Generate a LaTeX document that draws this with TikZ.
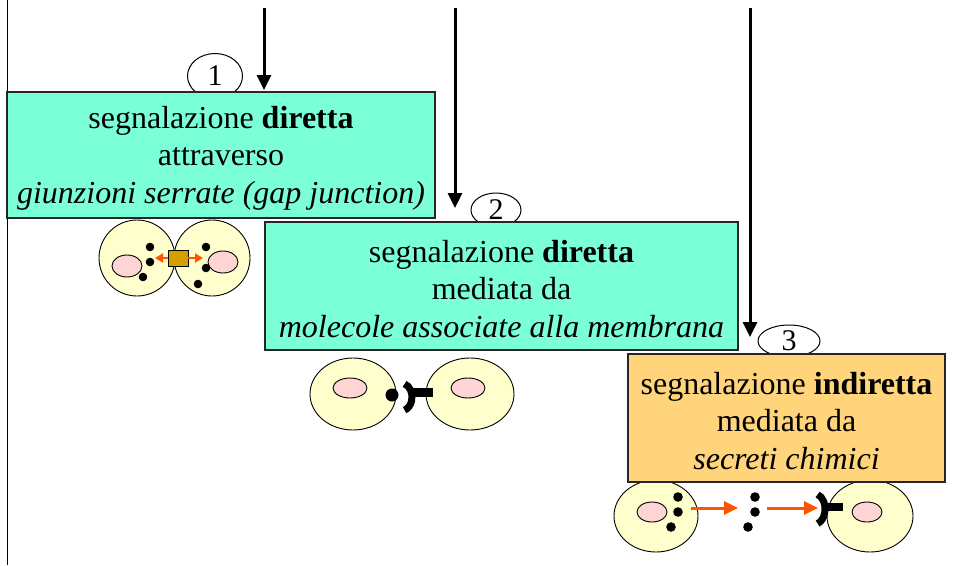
\documentclass[tikz,border=0pt]{standalone}
\usepackage{fontspec}
\setmainfont{Liberation Serif}
\usetikzlibrary{arrows.meta,shapes.geometric}
\definecolor{aquabox}{RGB}{122,255,214}
\definecolor{orangebox}{RGB}{255,212,122}
\definecolor{cellfill}{RGB}{255,255,206}
\definecolor{nucfill}{RGB}{255,212,212}
\definecolor{gapfill}{RGB}{212,160,0}
\definecolor{signal}{RGB}{255,85,0}
\begin{document}
\begin{tikzpicture}[x=1pt,y=-1pt,
  infobox/.style={draw=black!85,line width=1.3pt,inner sep=0pt},
  infotext/.style={inner sep=0pt,align=center,font=\fontsize{32}{37.5}\selectfont},
  stepnum/.style={draw=black,line width=1pt,fill=white,ellipse,inner sep=0pt,
    font=\fontsize{30}{32}\selectfont},
  feed/.style={line width=3pt,-{Triangle[width=14pt,length=15pt]}},
  cell/.style={draw=black,line width=0.9pt,fill=cellfill},
  nucleus/.style={draw=black,line width=0.9pt,fill=nucfill},
  signalarrow/.style={signal,line width=3pt,-{Triangle[width=13pt,length=14pt]}},
  gaparrow/.style={signal,line width=2.2pt,-{Triangle[width=9pt,length=8pt]}},
  receptor/.style={line width=7pt,black},
]
\useasboundingbox (0,0) rectangle (953,565);

% left margin rule
\coordinate (ruletop) at (7,0);
\coordinate (rulebottom) at (7,565);
\draw[line width=1pt] (ruletop) -- (rulebottom);

% step number ellipses (drawn first, the boxes cover their lower edge)
\node[stepnum,minimum width=55pt,minimum height=45pt] (n1) at (215,76) {1};
\node[stepnum,minimum width=50pt,minimum height=34pt] (n2) at (496,210) {2};
\node[stepnum,minimum width=62pt,minimum height=32pt] (n3) at (789,341) {3};

% cells of route 3 (partly under box 3)
\draw[cell] (656,516) ellipse [x radius=42,y radius=36];
\draw[nucleus] (652,512) ellipse [x radius=15,y radius=10];
\draw[cell] (870,516) ellipse [x radius=43,y radius=36];
\draw[nucleus] (867,512) ellipse [x radius=15,y radius=10];

% boxes and their captions
\node[infobox,fill=aquabox,minimum width=428pt,minimum height=126pt] (b1) at (221,155) {};
\node[infotext] (t1) at (221,158)
  {segnalazione \textbf{diretta}\\attraverso\\\textit{giunzioni serrate (gap junction)}};
\node[infobox,fill=aquabox,minimum width=473pt,minimum height=128pt] (b2) at (501.5,286) {};
\node[infotext] (t2) at (501.5,289)
  {segnalazione \textbf{diretta}\\mediata da\\\textit{molecole associate alla membrana}};
\node[infobox,fill=orangebox,minimum width=317pt,minimum height=128pt] (b3) at (786.5,418) {};
\node[infotext] (t3) at (786.5,421)
  {segnalazione \textbf{indiretta}\\mediata da\\\textit{secreti chimici}};

% incoming arrows
\coordinate (s1) at (264,8);  \coordinate (e1) at (264,90);
\coordinate (s2) at (455,8);  \coordinate (e2) at (455,208);
\coordinate (s3) at (750,8);  \coordinate (e3) at (750,337);
\draw[feed] (s1) -- (e1);
\draw[feed] (s2) -- (e2);
\draw[feed] (s3) -- (e3);

% route 1: gap junction between two touching cells
\draw[cell] (137,258) circle [radius=38];
\draw[cell] (212,258) circle [radius=38];
\draw[nucleus] (127,266) ellipse [x radius=15,y radius=11];
\draw[nucleus] (223,262) ellipse [x radius=15,y radius=11];
\foreach \p in {(150,247),(150,262),(143,277),(206,247),(206,268),(198,284)}
  \fill \p circle [radius=4.3];
\node[draw=black,line width=0.9pt,fill=gapfill,minimum width=20pt,minimum height=16pt,inner sep=0pt] (gap) at (178,258) {};
\coordinate (gl) at (155,258);
\coordinate (gr) at (203,258);
\draw[gaparrow] (gap.west) -- (gl);
\draw[gaparrow] (gap.east) -- (gr);

% route 2: membrane-bound ligand and receptor
\draw[cell] (353,394) ellipse [x radius=43,y radius=36];
\draw[nucleus] (350,388) ellipse [x radius=17,y radius=10];
\draw[cell] (470,394) ellipse [x radius=44,y radius=36];
\draw[nucleus] (468,388) ellipse [x radius=17,y radius=10];
\fill (392,395) circle [radius=6.5];
\draw[receptor] ([shift={(-75:10 and 13.5)}]402,397) arc [start angle=-75,end angle=75,x radius=10,y radius=13.5];
\fill (413,388) rectangle (433,397);

% route 3: secreted chemical signal
\foreach \p in {(678,497),(678,512),(671,527),(755,497),(755,512),(748,527)}
  \fill \p circle [radius=4.8];
\coordinate (a1s) at (691,508); \coordinate (a1e) at (738,508);
\coordinate (a2s) at (767,508); \coordinate (a2e) at (818,508);
\draw[signalarrow] (a1s) -- (a1e);
\draw[signalarrow] (a2s) -- (a2e);
\draw[receptor] ([shift={(-75:10 and 15)}]815,509) arc [start angle=-75,end angle=75,x radius=10,y radius=15];
\fill (826,503) rectangle (843,511);
\end{tikzpicture}
\end{document}
